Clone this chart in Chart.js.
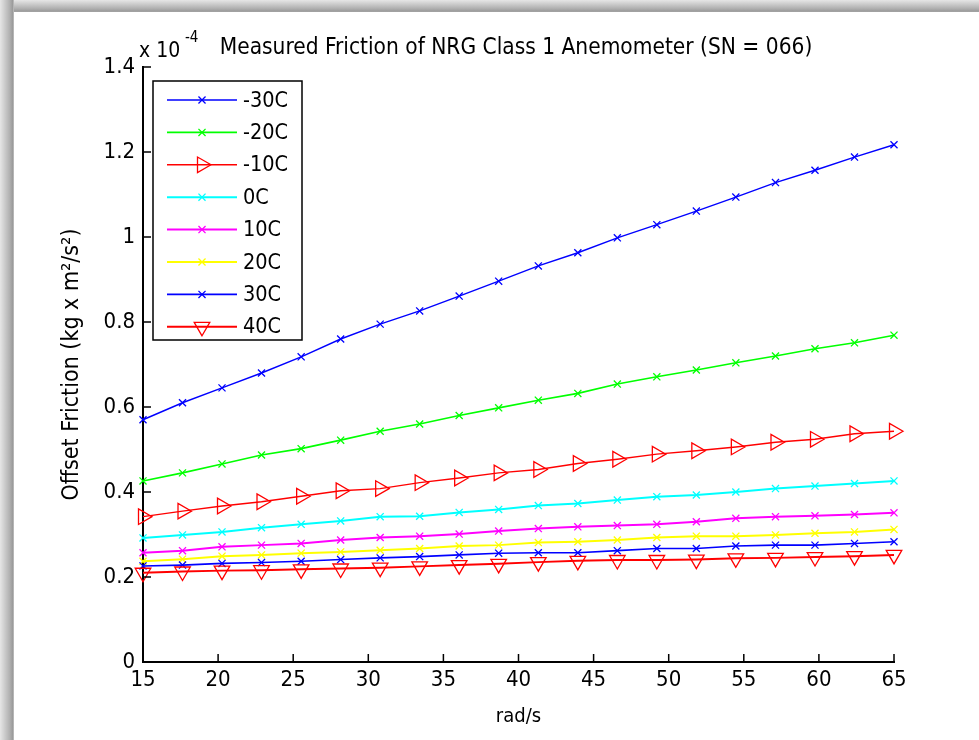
<!DOCTYPE html>
<html>
<head>
<meta charset="utf-8">
<script src="https://cdn.jsdelivr.net/npm/chart.js@4.4.0/dist/chart.umd.min.js"></script>
<style>
html, body { margin: 0; padding: 0; background: #fff; }
#wrap { position: relative; width: 979px; height: 740px; overflow: hidden; }
#topbar { position: absolute; left: 0; top: 0; width: 979px; height: 12px; background: linear-gradient(#e6e6e6, #b0b0b0 70%, #999 95%, #ccc); }
#leftbar { position: absolute; left: 0; top: 0; width: 14px; height: 740px; background: linear-gradient(to right, #e6e6e6, #b0b0b0 70%, #999 92%, #ccc); }
</style>
</head>
<body>
<div id="wrap">
  <canvas id="friction_chart" width="979" height="740"></canvas>
  <div id="topbar"></div>
  <div id="leftbar"></div>
</div>
<script>
var FONT = "'Liberation Sans Narrow', 'DejaVu Sans Condensed', 'Liberation Sans', sans-serif";

// rotor speed (rad/s)
var speeds = [15, 17.63, 20.26, 22.89, 25.53, 28.16, 30.79, 33.42, 36.05, 38.68,
              41.32, 43.95, 46.58, 49.21, 51.84, 54.47, 57.11, 59.74, 62.37, 65];

var tempLabels = ['-30C', '-20C', '-10C', '0C', '10C', '20C', '30C', '40C'];

// offset friction, x 1e-4 kg m^2/s^2
var frictionM30 = [0.570, 0.610, 0.645, 0.680, 0.718, 0.760, 0.795, 0.826, 0.861, 0.896,
                   0.932, 0.963, 0.998, 1.029, 1.061, 1.094, 1.128, 1.157, 1.188, 1.217];
var frictionM20 = [0.426, 0.445, 0.466, 0.487, 0.502, 0.522, 0.543, 0.560, 0.580, 0.598,
                   0.616, 0.632, 0.654, 0.671, 0.687, 0.704, 0.720, 0.737, 0.751, 0.769];
var frictionM10 = [0.342, 0.355, 0.367, 0.377, 0.390, 0.403, 0.408, 0.422, 0.433, 0.445,
                   0.453, 0.467, 0.477, 0.489, 0.497, 0.506, 0.517, 0.524, 0.537, 0.543];
var friction0   = [0.292, 0.299, 0.306, 0.316, 0.324, 0.332, 0.342, 0.343, 0.352, 0.359,
                   0.368, 0.373, 0.381, 0.389, 0.393, 0.400, 0.408, 0.414, 0.420, 0.426];
var friction10  = [0.257, 0.262, 0.271, 0.275, 0.279, 0.287, 0.293, 0.296, 0.301, 0.308,
                   0.314, 0.318, 0.321, 0.324, 0.330, 0.338, 0.342, 0.344, 0.347, 0.351];
var friction20  = [0.237, 0.242, 0.249, 0.252, 0.256, 0.259, 0.263, 0.267, 0.273, 0.275,
                   0.281, 0.283, 0.287, 0.293, 0.296, 0.296, 0.299, 0.303, 0.306, 0.312];
var friction30  = [0.226, 0.228, 0.232, 0.234, 0.237, 0.241, 0.245, 0.248, 0.252, 0.256,
                   0.257, 0.257, 0.262, 0.267, 0.267, 0.273, 0.275, 0.275, 0.279, 0.283];
var friction40  = [0.210, 0.213, 0.215, 0.216, 0.218, 0.220, 0.222, 0.225, 0.228, 0.231,
                   0.235, 0.238, 0.240, 0.240, 0.241, 0.244, 0.245, 0.247, 0.249, 0.252];

var seriesValues = [frictionM30, frictionM20, frictionM10, friction0,
                    friction10, friction20, friction30, friction40];
var seriesColors = ['#0000ff', '#00ff00', '#ff0000', '#00ffff',
                    '#ff00ff', '#ffff00', '#0000ff', '#ff0000'];
var seriesWidths = [1.4, 1.6, 1.4, 2, 2, 2, 1.6, 2];
var seriesMarkers = ['crossRot', 'crossRot', 'triangle', 'crossRot',
                     'crossRot', 'crossRot', 'crossRot', 'triangle'];
var seriesRotation = [0, 0, 90, 0, 0, 0, 0, 180];

function toPoints(values) {
    var pts = [];
    for (var i = 0; i < values.length; i++) {
        pts.push({ x: speeds[i], y: values[i] });
    }
    return pts;
}

function markerRadius(style) {
    return style === 'triangle' ? 9 : 5;
}

// small marker painter for the legend
function drawMarker(ctx, style, rotation, r, x, y) {
    var rad = rotation * Math.PI / 180;
    ctx.beginPath();
    if (style === 'triangle') {
        for (var k = 0; k < 3; k++) {
            var a = rad + k * 2 * Math.PI / 3;
            var px = x + Math.sin(a) * r, py = y - Math.cos(a) * r;
            if (k === 0) ctx.moveTo(px, py); else ctx.lineTo(px, py);
        }
        ctx.closePath();
    } else {
        var d = r * Math.SQRT1_2;
        ctx.moveTo(x - d, y - d); ctx.lineTo(x + d, y + d);
        ctx.moveTo(x - d, y + d); ctx.lineTo(x + d, y - d);
    }
    ctx.stroke();
}

var datasets = [];
for (var s = 0; s < tempLabels.length; s++) {
    datasets.push({
        label: tempLabels[s],
        data: toPoints(seriesValues[s]),
        borderColor: seriesColors[s],
        borderWidth: seriesWidths[s],
        pointStyle: seriesMarkers[s],
        pointRotation: seriesRotation[s],
        pointRadius: markerRadius(seriesMarkers[s]),
        pointBorderColor: seriesColors[s],
        pointBackgroundColor: 'rgba(0,0,0,0)',
        pointBorderWidth: 1.3,
        tension: 0,
        clip: false,
        order: tempLabels.length - s
    });
}

var matlabDecor = {
    id: 'matlabDecor',
    afterDraw: function (chart) {
        var ctx = chart.ctx;
        var area = chart.chartArea;
        var xs = chart.scales.x, ys = chart.scales.y;
        ctx.save();

        // inward tick marks
        ctx.strokeStyle = '#000';
        ctx.lineWidth = 1.5;
        ctx.beginPath();
        xs.ticks.forEach(function (t) {
            var px = xs.getPixelForValue(t.value);
            ctx.moveTo(px, area.bottom); ctx.lineTo(px, area.bottom - 8);
        });
        ys.ticks.forEach(function (t) {
            var py = ys.getPixelForValue(t.value);
            ctx.moveTo(area.left, py); ctx.lineTo(area.left + 8, py);
        });
        ctx.stroke();

        // title and exponent
        ctx.fillStyle = '#000';
        ctx.textBaseline = 'alphabetic';
        ctx.textAlign = 'center';
        ctx.font = '22.5px ' + FONT;
        ctx.fillText('Measured Friction of NRG Class 1 Anemometer (SN = 066)', 516, 54);
        ctx.textAlign = 'left';
        ctx.font = '21px ' + FONT;
        ctx.fillText('x 10', 139, 57);
        ctx.font = '15px ' + FONT;
        ctx.fillText('-4', 185, 42);

        // legend box
        var bx = 153, by = 81, bw = 149, bh = 259;
        ctx.fillStyle = '#fff';
        ctx.fillRect(bx, by, bw, bh);
        ctx.lineWidth = 1.5;
        ctx.strokeStyle = '#000';
        ctx.strokeRect(bx, by, bw, bh);
        ctx.font = '21.5px ' + FONT;
        ctx.textBaseline = 'middle';
        chart.data.datasets.forEach(function (ds, k) {
            var ly = 100 + k * 32.4;
            ctx.strokeStyle = ds.borderColor;
            ctx.lineWidth = ds.borderWidth;
            ctx.beginPath();
            ctx.moveTo(167, ly); ctx.lineTo(237, ly);
            ctx.stroke();
            ctx.lineWidth = ds.pointBorderWidth;
            drawMarker(ctx, ds.pointStyle, ds.pointRotation, ds.pointRadius, 202, ly);
            ctx.fillStyle = '#000';
            ctx.fillText(ds.label, 243, ly + 1);
        });
        ctx.restore();
    }
};

var ctx = document.getElementById('friction_chart').getContext('2d');
new Chart(ctx, {
    type: 'line',
    data: { datasets: datasets },
    plugins: [matlabDecor],
    options: {
        responsive: false,
        animation: false,
        layout: { padding: { top: 67, right: 85, left: 0, bottom: 0 } },
        plugins: { legend: { display: false }, tooltip: { enabled: false }, title: { display: false } },
        scales: {
            x: {
                type: 'linear',
                min: 15, max: 65,
                afterFit: function (scale) { scale.height = 78; },
                ticks: { stepSize: 5, color: '#000', padding: 5, maxRotation: 0,
                         font: { family: FONT, size: 22 } },
                grid: { display: false, drawTicks: false },
                border: { display: true, color: '#000', width: 2 },
                title: { display: true, text: 'rad/s', color: '#000',
                         font: { family: FONT, size: 20 }, padding: { top: 0, bottom: 11 } }
            },
            y: {
                type: 'linear',
                min: 0, max: 1.4,
                afterFit: function (scale) { scale.width = 143; },
                ticks: { stepSize: 0.2, color: '#000', padding: 8,
                         font: { family: FONT, size: 22 },
                         callback: function (v) { return String(Number(v.toFixed(1))); } },
                grid: { display: false, drawTicks: false },
                border: { display: true, color: '#000', width: 2 },
                title: { display: true, text: 'Offset Friction (kg x m\u00b2/s\u00b2)', color: '#000',
                         font: { family: FONT, size: 23 }, padding: { top: 58, bottom: 0 } }
            }
        }
    }
});
</script>
</body>
</html>
